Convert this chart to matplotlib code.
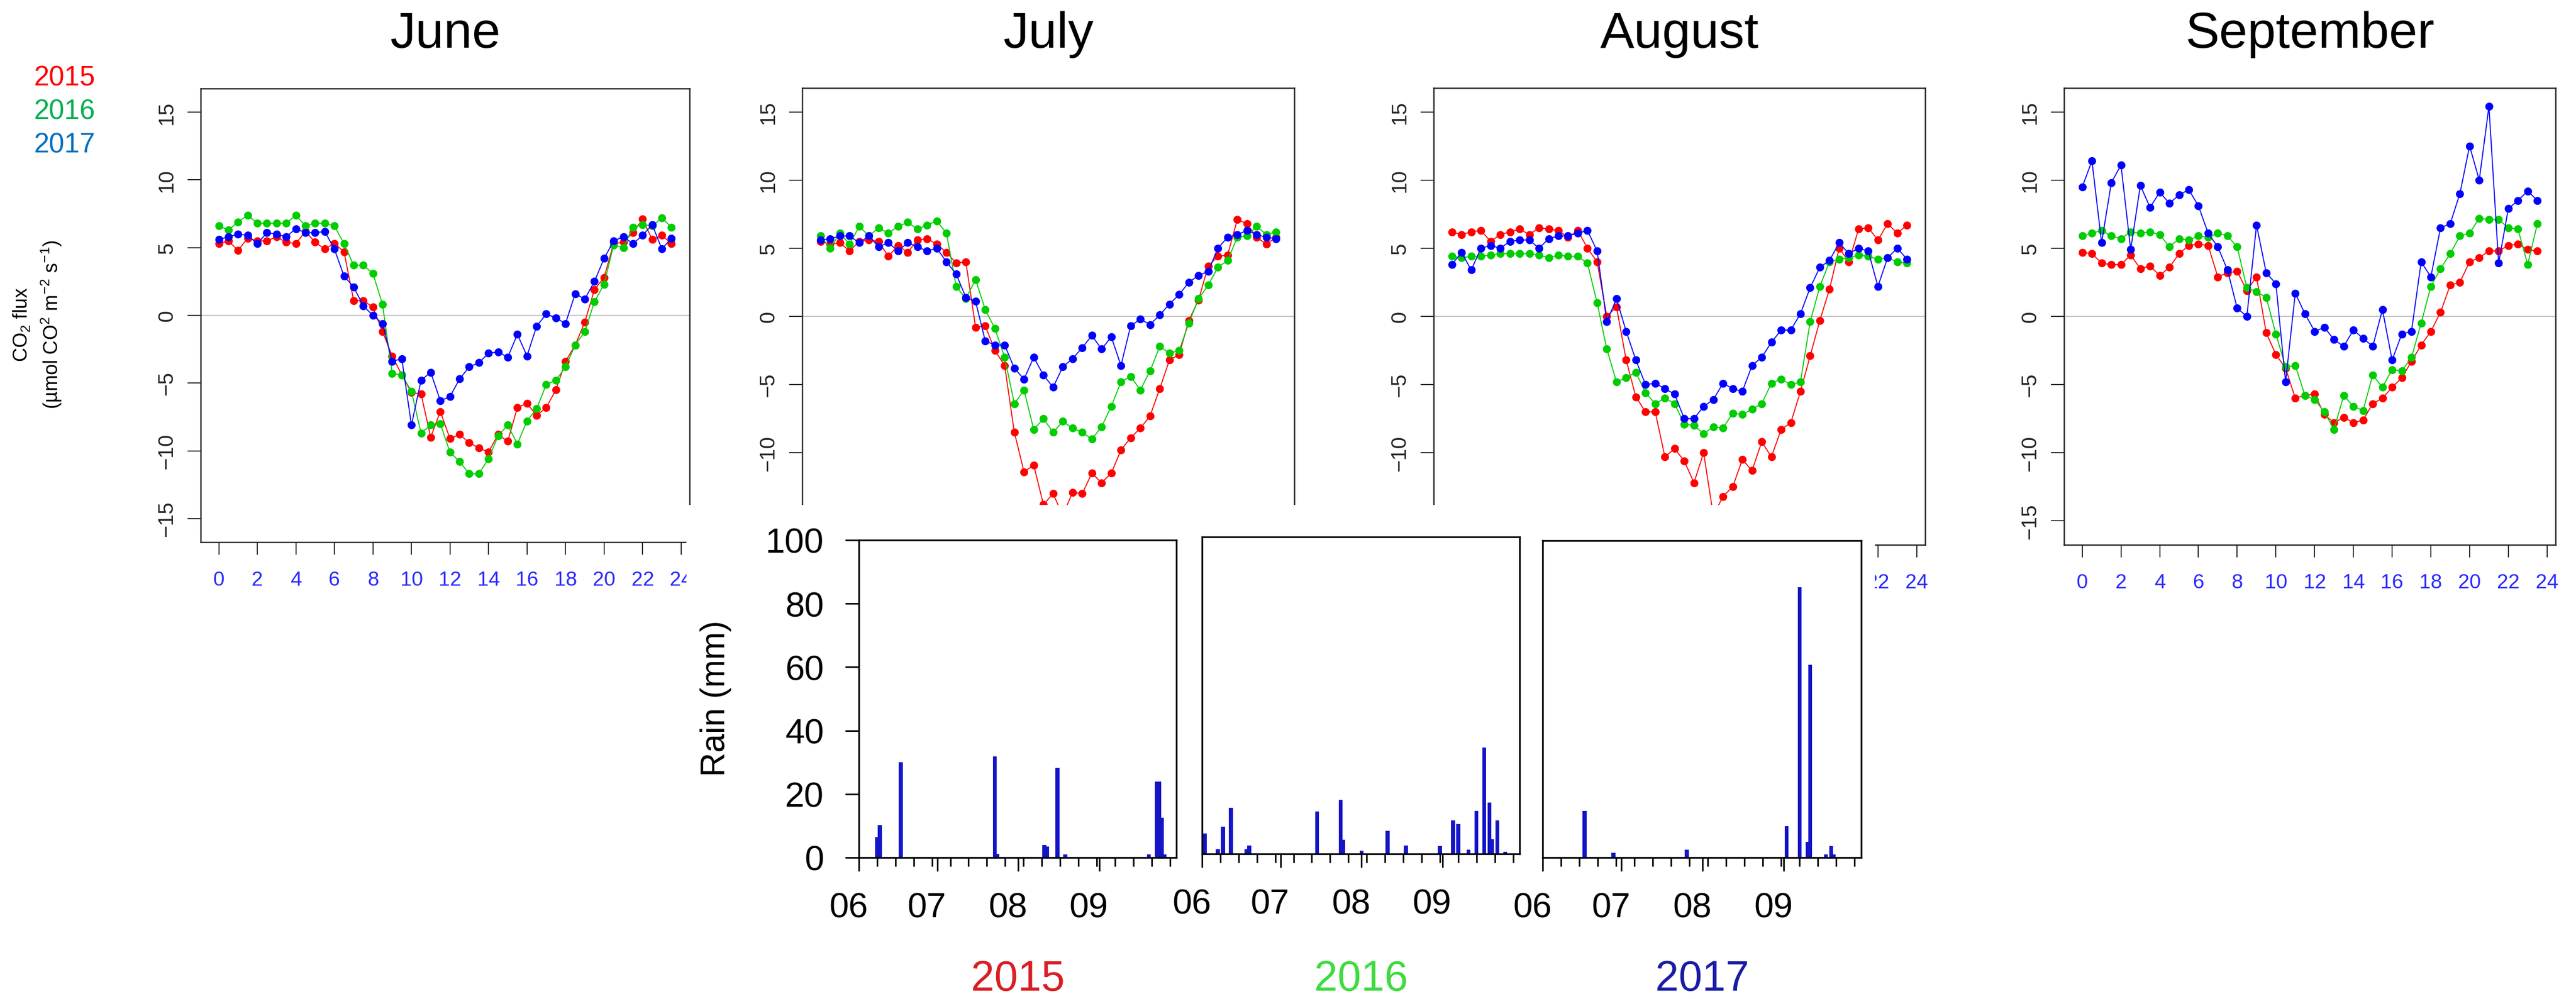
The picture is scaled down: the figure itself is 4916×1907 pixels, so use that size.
import numpy as np
import pandas as pd
import matplotlib
matplotlib.use("Agg")
import matplotlib.pyplot as plt
import matplotlib.transforms as mtransforms
from matplotlib.patches import Rectangle
from matplotlib.ticker import MultipleLocator

plt.rcParams["font.family"] = ["Liberation Sans", "DejaVu Sans"]
plt.rcParams["mathtext.fontset"] = "custom"
plt.rcParams["mathtext.rm"] = "Liberation Sans"
plt.rcParams["mathtext.it"] = "Liberation Sans:italic"
plt.rcParams["mathtext.bf"] = "Liberation Sans:bold"

# ── CO2 flux, half-hourly diurnal means ────────────────────────────────────────

HOURS = np.arange(0, 24, 0.5)

JUNE_2015 = [5.3, 5.5, 4.8, 5.7, 5.5, 5.5, 5.8, 5.4, 5.3, 6.2, 5.4, 4.9, 5.3, 4.7, 1.1, 1.1, 0.6, -1.2,
             -3.0, -4.4, -5.7, -5.8, -9.0, -7.1, -9.1, -8.8, -9.4, -9.8, -10.1, -8.8, -9.3, -6.8, -6.5,
             -7.4, -6.8, -5.5, -3.4, -2.2, -0.5, 1.9, 2.8, 5.3, 5.4, 6.1, 7.1, 5.6, 5.9, 5.3]
JUNE_2016 = [6.6, 6.3, 6.9, 7.4, 6.8, 6.8, 6.8, 6.8, 7.4, 6.6, 6.8, 6.8, 6.6, 5.3, 3.7, 3.7, 3.1, 0.8,
             -4.3, -4.4, -5.6, -8.7, -8.1, -8.0, -10.1, -10.8, -11.7, -11.7, -10.6, -8.9, -8.1, -9.5,
             -7.8, -6.9, -5.1, -4.8, -3.8, -2.2, -1.2, 1.0, 2.3, 5.2, 5.0, 6.5, 6.7, 6.6, 7.2, 6.5]
JUNE_2017 = [5.6, 5.8, 6.0, 5.9, 5.3, 6.1, 6.0, 5.8, 6.4, 6.1, 6.1, 6.2, 4.9, 2.9, 2.1, 0.7, 0.0, -0.6,
             -3.4, -3.2, -8.1, -4.8, -4.2, -6.3, -6.0, -4.7, -3.8, -3.5, -2.8, -2.7, -3.1, -1.4, -3.0,
             -0.8, 0.1, -0.2, -0.6, 1.6, 1.2, 2.5, 4.2, 5.5, 5.8, 5.3, 5.9, 6.7, 4.9, 5.7]

JULY_2015 = [5.5, 5.3, 5.4, 4.8, 5.5, 5.6, 5.5, 4.4, 5.2, 4.7, 5.6, 5.7, 5.3, 4.7, 3.9, 4.0, -0.8, -0.7,
             -2.5, -3.6, -8.5, -11.4, -10.9, -13.8, -13.0, -14.6, -12.9, -13.0, -11.5, -12.2, -11.5,
             -9.8, -8.9, -8.2, -7.3, -5.3, -3.2, -2.8, -0.3, 1.2, 3.7, 4.4, 4.5, 7.1, 6.8, 5.8, 5.3, 5.8]
JULY_2016 = [5.9, 5.0, 6.1, 5.3, 6.6, 5.9, 6.5, 6.1, 6.6, 6.9, 6.4, 6.7, 7.0, 6.1, 2.2, 1.3, 2.7, 0.5,
             -0.9, -3.0, -6.4, -5.4, -8.3, -7.5, -8.5, -7.7, -8.2, -8.5, -9.0, -8.1, -6.6, -4.8, -4.4,
             -5.4, -4.0, -2.2, -2.7, -2.5, -0.5, 1.3, 2.3, 3.6, 4.1, 5.8, 5.9, 6.6, 6.0, 6.2]
JULY_2017 = [5.6, 5.7, 5.9, 5.9, 5.4, 5.9, 5.1, 5.4, 4.8, 5.4, 5.1, 4.8, 5.0, 4.0, 3.1, 1.4, 1.1, -1.8,
             -2.1, -2.1, -3.8, -4.6, -3.0, -4.3, -5.2, -3.7, -3.1, -2.3, -1.4, -2.4, -1.5, -3.6, -0.7,
             -0.2, -0.6, 0.1, 0.9, 1.6, 2.5, 3.0, 3.3, 5.0, 5.8, 6.0, 6.3, 6.0, 5.8, 5.7]

AUG_2015 = [6.2, 6.0, 6.2, 6.3, 5.5, 6.0, 6.2, 6.4, 6.0, 6.5, 6.4, 6.3, 5.8, 6.3, 5.0, 4.0, 0.0, 0.7,
            -3.2, -5.9, -7.0, -7.0, -10.3, -9.7, -10.6, -12.2, -10.0, -14.6, -13.2, -12.5, -10.5,
            -11.3, -9.2, -10.3, -8.3, -7.8, -5.5, -2.9, -0.3, 2.0, 5.0, 4.0, 6.4, 6.5, 5.6, 6.8, 6.1, 6.7]
AUG_2016 = [4.4, 4.3, 4.4, 4.4, 4.5, 4.6, 4.6, 4.6, 4.6, 4.5, 4.3, 4.5, 4.4, 4.4, 3.9, 1.0, -2.4, -4.8,
            -4.5, -4.1, -5.6, -6.4, -6.0, -6.4, -7.9, -8.0, -8.6, -8.1, -8.2, -7.1, -7.2, -6.8, -6.4,
            -4.9, -4.6, -5.0, -4.8, -0.4, 2.2, 4.0, 4.2, 4.3, 4.5, 4.4, 4.2, 4.3, 4.0, 3.9]
AUG_2017 = [3.8, 4.7, 3.4, 5.0, 5.2, 5.0, 5.5, 5.6, 5.6, 5.0, 5.7, 5.9, 5.9, 6.1, 6.3, 4.8, -0.4, 1.3,
            -1.1, -3.2, -5.0, -4.9, -5.3, -5.7, -7.5, -7.5, -6.6, -6.1, -4.9, -5.3, -5.5, -3.6, -3.0,
            -1.9, -1.0, -1.0, 0.2, 2.1, 3.6, 4.1, 5.4, 4.6, 5.0, 4.8, 2.2, 4.3, 5.0, 4.2]

SEP_2015 = [4.7, 4.6, 3.9, 3.8, 3.8, 4.5, 3.5, 3.7, 3.0, 3.6, 4.6, 5.2, 5.3, 5.2, 2.9, 3.2, 3.3, 1.9,
            2.9, -1.2, -2.8, -3.8, -6.0, -5.8, -5.7, -7.2, -7.8, -7.4, -7.8, -7.6, -6.4, -6.0, -5.2,
            -4.5, -3.3, -2.1, -1.1, 0.3, 2.3, 2.5, 4.0, 4.3, 4.8, 4.8, 5.2, 5.3, 4.9, 4.8]
SEP_2016 = [5.9, 6.1, 6.3, 5.9, 5.7, 6.2, 6.1, 6.2, 6.0, 5.1, 5.7, 5.6, 5.9, 5.8, 6.1, 5.9, 5.1, 2.1,
            1.8, 1.4, -1.3, -3.7, -3.6, -5.8, -6.1, -7.0, -8.3, -5.8, -6.6, -6.9, -4.3, -5.2, -3.9,
            -4.0, -3.0, -0.5, 2.2, 3.5, 4.6, 5.9, 6.1, 7.2, 7.1, 7.1, 6.5, 6.4, 3.8, 6.8]
SEP_2017 = [9.5, 11.4, 5.4, 9.8, 11.1, 4.9, 9.6, 8.0, 9.1, 8.3, 8.9, 9.3, 8.1, 6.1, 5.1, 3.4, 0.6, 0.0,
            6.7, 3.2, 2.4, -4.8, 1.7, 0.2, -1.1, -0.8, -1.7, -2.2, -1.0, -1.6, -2.2, 0.5, -3.2, -1.3,
            -1.1, 4.0, 2.9, 6.5, 6.8, 9.0, 12.5, 10.0, 15.4, 3.9, 7.9, 8.5, 9.2, 8.5]

MONTHS = ["June", "July", "August", "September"]
FLUX = {
    "June":      (JUNE_2015, JUNE_2016, JUNE_2017),
    "July":      (JULY_2015, JULY_2016, JULY_2017),
    "August":    (AUG_2015, AUG_2016, AUG_2017),
    "September": (SEP_2015, SEP_2016, SEP_2017),
}
YEARS = ["2015", "2016", "2017"]

# ── daily rain (mm), June-September ────────────────────────────────────────────

RAIN_DATES_2015 = ["2015-06-08", "2015-06-09", "2015-06-17", "2015-07-23", "2015-07-24",
                   "2015-08-11", "2015-08-12", "2015-08-16", "2015-08-19", "2015-09-20",
                   "2015-09-23", "2015-09-24", "2015-09-25", "2015-09-26"]
RAIN_MM_2015 = [6.4, 10.2, 30.0, 31.8, 1.2, 3.9, 3.5, 28.3, 1.0, 1.0, 24.0, 24.0, 12.6, 1.0]

RAIN_DATES_2016 = ["2016-06-02", "2016-06-07", "2016-06-09", "2016-06-12", "2016-06-18",
                   "2016-06-19", "2016-07-15", "2016-07-24", "2016-07-25", "2016-08-01",
                   "2016-08-11", "2016-08-18", "2016-08-31", "2016-09-05", "2016-09-07",
                   "2016-09-11", "2016-09-14", "2016-09-17", "2016-09-19", "2016-09-20",
                   "2016-09-22", "2016-09-25"]
RAIN_MM_2016 = [6.4, 1.5, 8.6, 14.5, 1.5, 2.7, 13.4, 17.1, 4.4, 1.0, 7.3, 2.7, 2.4, 10.6, 9.4,
                1.3, 13.5, 33.6, 16.2, 4.7, 10.6, 0.6]

RAIN_DATES_2017 = ["2017-06-17", "2017-06-28", "2017-07-26", "2017-09-02", "2017-09-07",
                   "2017-09-10", "2017-09-11", "2017-09-17", "2017-09-19", "2017-09-20"]
RAIN_MM_2017 = [14.7, 1.5, 2.5, 10.0, 85.3, 5.0, 60.9, 1.0, 3.7, 1.0]

RAIN = {
    "2015": (RAIN_DATES_2015, RAIN_MM_2015),
    "2016": (RAIN_DATES_2016, RAIN_MM_2016),
    "2017": (RAIN_DATES_2017, RAIN_MM_2017),
}
MONTH_LABELS = ["06", "07", "08", "09"]

# ── styling ────────────────────────────────────────────────────────────────────

LINE_COLORS       = ["#ff0000", "#00cd00", "#0000ff"]
LEGEND_COLORS     = ["#ff0000", "#00b050", "#0070c0"]
YEAR_LABEL_COLORS = ["#d81e24", "#3edb3e", "#1b1ba8"]
RAIN_COLOR        = "#1414c8"

W, H = 4916, 1908

def box(l, t, r, b):
    return [l / W, 1 - b / H, (r - l) / W, (b - t) / H]

FLUX_BOXES = [(383, 170, 1316, 1036), (1531, 169, 2470, 1041),
              (2736, 169, 3674, 1041), (3939, 169, 4877, 1041)]
RAIN_BOXES = [(1639, 1032, 2245, 1638), (2294, 1026, 2900, 1631), (2944, 1033, 3552, 1638)]

# the rain block covers the bottom of July/August: those labels are never seen
COVERED = {"July": True, "August": True}

fig = plt.figure(figsize=(W / 100, H / 100), dpi=100)

# ── CO2 flux panels ────────────────────────────────────────────────────────────

for month, (l, t, r, b) in zip(MONTHS, FLUX_BOXES):
    ax = fig.add_axes(box(l, t, r, b))
    ax.axhline(0, color="#c4c4c4", lw=1.5, zorder=1)
    for vals, col in zip(FLUX[month], LINE_COLORS):
        ax.plot(HOURS, vals, color=col, lw=1.4, marker="o", ms=10, mec=col, zorder=2)
    ax.set_xlim(-0.94, 24.44)
    ax.set_ylim(-16.75, 16.75)
    ax.set_xticks(range(0, 25, 2))
    ax.set_yticks(range(-15, 16, 5))
    ax.tick_params(axis="x", length=17, width=1.4, pad=22, labelsize=28, labelcolor="#2a2aff",
                   color="#222222")
    ax.tick_params(axis="y", length=18, width=1.4, pad=15, labelsize=29, labelrotation=90,
                   labelcolor="#222222", color="#222222")
    for lab in ax.get_yticklabels():
        lab.set_va("center")
    if COVERED.get(month):
        ax.get_yticklabels()[0].set_visible(False)
        xlabs = ax.get_xticklabels()
        keep = 2 if month == "August" else 0
        for lab in xlabs[:len(xlabs) - keep]:
            lab.set_visible(False)
    for sp in ax.spines.values():
        sp.set_linewidth(1.8)
        sp.set_color("#222222")
    fig.text((l + r) / 2 / W, 1 - 91 / H, month, ha="center", va="baseline", fontsize=70)

# year legend + y label
for yr, col, base in zip(YEARS, LEGEND_COLORS, [163, 228, 292]):
    fig.text(64 / W, 1 - base / H, yr, color=col, fontsize=38, va="baseline")

fig.text(72 / W, 1 - 620 / H, "CO$_2$ flux\n(µmol CO$^2$ m$^{-2}$ s$^{-1}$)",
         rotation=90, ha="center", va="center", fontsize=27, linespacing=1.4,
         multialignment="center")

# white block that the rain panels sit on (hides the lower part of July/August)
fig.add_artist(Rectangle((1310 / W, 0), (3578 - 1310) / W, 1 - 965 / H,
                         transform=fig.transFigure, facecolor="white", edgecolor="none", zorder=5))

# ── rain panels ────────────────────────────────────────────────────────────────

label_shift = mtransforms.ScaledTranslation(-0.20, 0, fig.dpi_scale_trans)

for i, (yr, (l, t, r, b)) in enumerate(zip(YEARS, RAIN_BOXES)):
    ax = fig.add_axes(box(l, t, r, b), zorder=6)
    dates, mm = RAIN[yr]
    start = pd.Timestamp(f"{yr}-06-01")
    days = (pd.to_datetime(dates) - start).days
    ax.bar(days, mm, width=1.5, color=RAIN_COLOR, align="center")
    month_starts = (pd.to_datetime([f"{yr}-{m}-01" for m in MONTH_LABELS]) - start).days
    ax.set_xlim(0, 121.5)
    ax.set_ylim(0, 100)
    ax.set_xticks(month_starts)
    ax.set_xticklabels(MONTH_LABELS)
    ax.xaxis.set_minor_locator(MultipleLocator(7))
    ax.tick_params(axis="x", which="major", length=19, width=2.2, pad=28, labelsize=48)
    ax.tick_params(axis="x", which="minor", length=12, width=2.2)
    for lab in ax.get_xticklabels():
        lab.set_transform(lab.get_transform() + label_shift)
    if i == 0:
        ax.set_yticks(range(0, 101, 20))
        ax.tick_params(axis="y", length=19, width=2.2, pad=29, labelsize=48)
    else:
        ax.set_yticks([])
    for sp in ax.spines.values():
        sp.set_linewidth(2.4)
    fig.text((l + r) / 2 / W, 0.0, yr, color=YEAR_LABEL_COLORS[i], fontsize=58,
             ha="center", va="bottom", zorder=7)

fig.text(1366 / W, 1 - 1333 / H, "Rain (mm)", rotation=90, ha="center", va="center",
         fontsize=46, zorder=7)

plt.savefig("out.png", dpi=100)
